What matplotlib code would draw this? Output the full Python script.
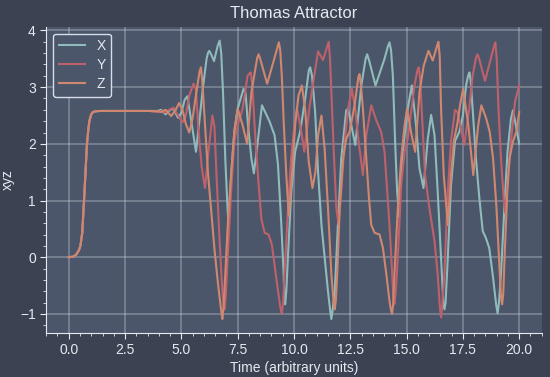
"""Thomas attractor time series (x, y, z) -> out.png"""
import numpy as np
import matplotlib
matplotlib.use("Agg")
import matplotlib.pyplot as plt
from matplotlib.ticker import AutoMinorLocator

# shared start: all three coordinates coincide until ~t=3.6
t_start = [0.0, 0.2, 0.34, 0.45, 0.52, 0.6, 0.68, 0.75, 0.81, 0.87, 0.92, 1.0, 1.07, 1.2, 1.4, 2.0, 3.0, 3.6]
v_start = [0.0, 0.01, 0.05, 0.12, 0.2, 0.43, 1.0, 1.55, 2.0, 2.25, 2.41, 2.52, 2.56, 2.575, 2.58, 2.58, 2.58, 2.58]

t_x = [3.9, 4.1, 4.3, 4.5, 4.65, 4.85, 5.0, 5.15, 5.27, 5.47, 5.65, 5.78, 5.97, 6.12, 6.24,
       6.45, 6.7, 6.85, 6.95, 7.03, 7.09, 7.21, 7.35, 7.5, 7.76, 7.85, 7.96, 8.11, 8.22, 8.35,
       8.58, 8.92, 9.14, 9.29, 9.44, 9.53, 9.61, 9.73, 9.88, 10.05, 10.27, 10.5, 10.72, 10.94,
       11.07, 11.22, 11.36, 11.51, 11.66, 11.81, 11.95, 12.1, 12.32, 12.4, 12.72, 12.99, 13.25,
       13.62, 14.02, 14.24, 14.39, 14.49, 14.58, 14.66, 14.83, 15.05, 15.23, 15.42, 15.57, 15.75,
       15.94, 16.09, 16.24, 16.38, 16.53, 16.68, 16.83, 16.97, 17.15, 17.34, 17.5, 17.64, 17.79,
       17.93, 18.08, 18.23, 18.38, 18.52, 18.67, 18.82, 19.04, 19.19, 19.34, 19.48, 19.63, 19.72,
       19.85, 20.0]
v_x = [2.575, 2.6, 2.52, 2.6, 2.62, 2.46, 2.55, 2.78, 2.84, 2.33, 1.86, 2.33, 3.03, 3.5, 3.64,
       3.46, 3.82, 2.91, 1.74, 1.04, 0.57, 1.45, 2.21, 2.62, 2.97, 2.9, 2.33, 1.74, 1.48, 1.9,
       2.68, 2.39, 2.15, 1.63, 0.57, -0.2, -0.83, 0.0, 1.16, 1.86, 2.21, 2.8, 3.35, 2.56,
       1.5, 0.57, 0.0, -0.6, -1.09, -0.6, 0.57, 1.74, 2.59, 2.62, 1.98, 3.03, 3.58,
       3.03, 3.5, 3.79, 3.2, 2.04, 1.16, 0.72, 1.86, 2.62, 3.03, 2.33, 1.57, 1.22,
       2.09, 2.51, 2.15, 1.16, 0.0, -0.92, 0.0, 1.27, 2.05, 2.21, 2.5, 3.03, 3.26,
       2.62, 1.74, 1.04, 0.46, 0.34, 0.16, -0.3, -0.99, -0.3, 0.87, 1.86, 2.44, 2.59,
       2.33, 2.0]
# extra readings on the rounded peaks / troughs
t_x_round = [6.18, 6.32, 6.62, 6.77, 9.57, 9.66, 10.66, 10.8, 11.61, 11.71, 13.18, 13.35,
             14.17, 14.31, 16.63, 16.73, 17.73, 17.85, 18.98, 19.1]
v_x_round = [3.6, 3.58, 3.74, 3.6, -0.65, -0.6, 3.3, 3.2, -0.95, -0.95, 3.5, 3.45,
             3.72, 3.65, -0.8, -0.8, 3.2, 3.1, -0.85, -0.8]

t_y = [3.9, 4.1, 4.3, 4.45, 4.65, 4.85, 5.05, 5.2, 5.35, 5.54, 5.65, 5.75, 5.9, 6.05, 6.2,
       6.38, 6.47, 6.56, 6.7, 6.82, 6.92, 7.06, 7.21, 7.35, 7.5, 7.72, 7.94, 8.08, 8.25, 8.4,
       8.55, 8.7, 8.87, 9.02, 9.21, 9.46, 9.58, 9.73, 9.87, 10.02, 10.13, 10.28, 10.46, 10.68,
       10.9, 11.07, 11.29, 11.54, 11.66, 11.78, 11.88, 11.98, 12.1, 12.25, 12.4, 12.57, 12.72,
       12.87, 13.06, 13.21, 13.43, 13.65, 13.87, 14.02, 14.14, 14.24, 14.32, 14.46, 14.61, 14.76,
       14.91, 15.05, 15.2, 15.35, 15.54, 15.67, 15.82, 16.01, 16.24, 16.38, 16.53, 16.68, 16.83,
       16.97, 17.15, 17.27, 17.56, 17.78, 17.93, 18.15, 18.48, 18.94, 19.08, 19.19, 19.31, 19.38,
       19.51, 19.66, 19.81, 20.0]
v_y = [2.56, 2.58, 2.55, 2.6, 2.64, 2.5, 2.38, 2.5, 2.85, 3.06, 2.95, 2.3, 1.6, 1.22, 1.85,
       2.5, 2.3, 1.45, 0.28, -0.6, -0.92, 0.0, 1.16, 2.04, 2.33, 2.62, 3.2, 3.26, 2.33, 1.45,
       0.68, 0.43, 0.4, 0.22, -0.36, -1.0, -0.3, 0.81, 1.74, 2.33, 2.62, 2.33, 1.86, 2.62,
       3.2, 3.63, 3.48, 3.8, 2.91, 1.74, 0.87, 0.57, 1.16, 2.04, 2.62, 2.97, 2.62,
       2.04, 1.45, 2.15, 2.68, 2.42, 2.21, 1.86, 1.16, 0.57, 0.0, -0.83, 0.0, 1.27,
       1.86, 2.09, 2.56, 3.03, 3.35, 2.62, 1.45, 0.87, 0.28, -0.3, -1.06, -0.3, 1.16,
       2.04, 2.6, 2.55, 1.98, 2.62, 3.2, 3.58, 3.11, 3.79, 2.62, 1.74, 1.04, 0.78,
       1.45, 2.15, 2.74, 3.03]
t_y_round = [6.88, 6.97, 8.02, 8.15, 9.4, 9.52, 11.48, 11.6, 14.41, 14.52, 15.48, 15.6,
             16.48, 16.58, 18.08, 18.22, 18.88, 19.0]
v_y_round = [-0.85, -0.7, 3.24, 3.05, -0.9, -0.8, 3.72, 3.5, -0.7, -0.6, 3.3, 3.15,
             -0.9, -0.85, 3.52, 3.5, 3.72, 3.5]

t_z = [3.9, 4.1, 4.3, 4.55, 4.75, 4.9, 5.05, 5.2, 5.35, 5.5, 5.7, 5.87, 6.05, 6.19, 6.34,
       6.48, 6.63, 6.82, 6.95, 7.06, 7.21, 7.35, 7.5, 7.72, 7.92, 8.11, 8.43, 8.81, 9.33, 9.46,
       9.55, 9.66, 9.77, 9.91, 10.05, 10.2, 10.35, 10.5, 10.65, 10.82, 10.95, 11.07, 11.22,
       11.36, 11.51, 11.66, 11.81, 11.92, 12.03, 12.18, 12.32, 12.47, 12.69, 12.91, 13.06, 13.21,
       13.33, 13.43, 13.58, 13.8, 13.95, 14.1, 14.24, 14.35, 14.46, 14.61, 14.76, 14.91, 15.02,
       15.2, 15.38, 15.57, 15.76, 15.97, 16.16, 16.41, 16.53, 16.65, 16.83, 16.97, 17.1, 17.25,
       17.38, 17.51, 17.74, 17.96, 18.18, 18.32, 18.54, 18.69, 18.84, 18.99, 19.1, 19.24, 19.35,
       19.47, 19.57, 19.72, 19.87, 20.0]
v_z = [2.58, 2.56, 2.6, 2.49, 2.6, 2.72, 2.6, 2.35, 2.2, 2.45, 3.0, 3.35, 2.33, 1.45, 0.75,
       0.1, -0.48, -1.09, -0.3, 0.57, 1.45, 2.21, 2.62, 2.33, 2.0, 2.91, 3.58, 3.06, 3.79, 3.2,
       2.33, 1.45, 0.73, 1.45, 2.33, 2.85, 3.03, 2.6, 1.7, 1.22, 1.5, 2.15, 2.5,
       1.92, 0.87, -0.3, -0.92, -0.3, 0.87, 1.74, 2.09, 2.21, 2.68, 3.23, 2.62, 1.74,
       1.04, 0.57, 0.43, 0.4, 0.16, -0.3, -0.77, -1.0, -0.3, 0.87, 1.74, 2.33, 2.62,
       2.2, 1.86, 2.91, 3.38, 3.64, 3.47, 3.8, 2.62, 1.45, 0.57, 1.45, 2.05, 2.35,
       2.7, 2.97, 2.33, 1.45, 2.33, 2.68, 2.44, 2.21, 1.74, 0.87, 0.0, -0.83, 0.0,
       1.16, 1.74, 2.04, 2.21, 2.56]
t_z_round = [5.81, 5.93, 6.77, 6.87, 8.37, 8.5, 9.27, 9.39, 11.76, 11.86, 12.86, 12.97,
             14.3, 14.4, 16.36, 16.47, 19.19, 19.29]
v_z_round = [3.28, 3.1, -0.95, -0.9, 3.52, 3.5, 3.7, 3.65, -0.8, -0.75, 3.18, 3.05,
             -0.92, -0.85, 3.74, 3.55, -0.7, -0.65]

labels = ["X", "Y", "Z"]
colors = ["#8fbcbb", "#bf616a", "#d08770"]

FIG_BG = "#3b4252"
AX_BG = "#4c566a"
FG = "#e5e9f0"


def merged(t, v, t_extra, v_extra):
    tt = np.array(t_start + t + t_extra)
    vv = np.array(v_start + v + v_extra)
    order = np.argsort(tt, kind="stable")
    return tt[order], vv[order]


plt.rcParams["font.family"] = ["Liberation Sans", "DejaVu Sans"]

fig = plt.figure(figsize=(5.5, 3.77), dpi=100, facecolor=FIG_BG)
ax = fig.add_axes([0.084, 0.117, 0.901, 0.812], facecolor=AX_BG)

series = [(t_x, v_x, t_x_round, v_x_round),
          (t_y, v_y, t_y_round, v_y_round),
          (t_z, v_z, t_z_round, v_z_round)]
for (t, v, te, ve), lab, c in zip(series, labels, colors):
    tt, vv = merged(t, v, te, ve)
    ax.plot(tt, vv, color=c, lw=1.5, label=lab, solid_joinstyle="round")

ax.set_title("Thomas Attractor", color=FG, fontsize=12)
ax.set_xlabel("Time (arbitrary units)", color=FG, fontsize=10, labelpad=3)
ax.set_ylabel("xyz", color=FG, fontsize=10)
ax.set_xticks(np.arange(0, 20.1, 2.5))
ax.set_yticks(np.arange(-1, 4.1, 1))
ax.xaxis.set_minor_locator(AutoMinorLocator(5))
ax.yaxis.set_minor_locator(AutoMinorLocator(5))
ax.grid(True, which="major", color="#d8dee9", alpha=0.35, lw=1.2)
ax.tick_params(which="both", colors=FG, labelsize=10)
ax.tick_params(which="major", length=4)
ax.tick_params(which="minor", length=2)
for side in ("top", "right"):
    ax.spines[side].set_visible(False)
for side in ("left", "bottom"):
    ax.spines[side].set_color(FG)

leg = ax.legend(loc="upper left", fontsize=10, facecolor=AX_BG, edgecolor="#d8dee9",
                labelcolor=FG, handlelength=1.9, labelspacing=0.35, fancybox=True)
leg.get_frame().set_alpha(1.0)

fig.savefig("out.png", dpi=100, facecolor=FIG_BG)
